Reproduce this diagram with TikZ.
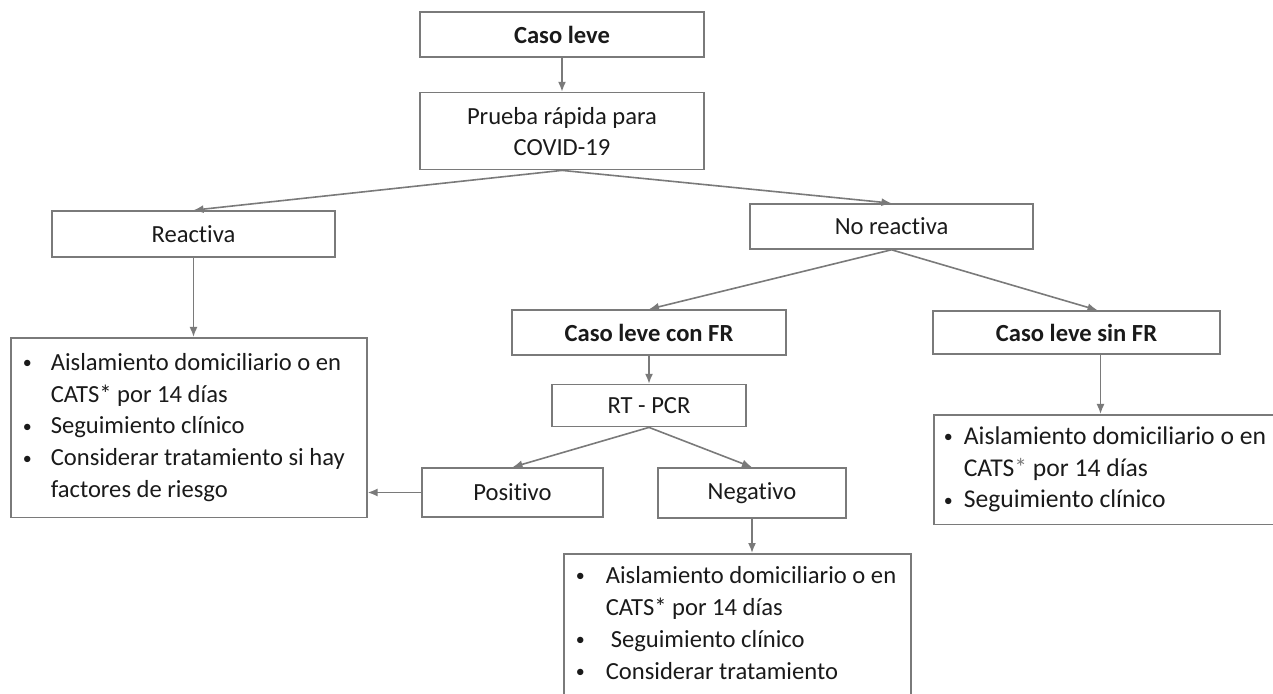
\documentclass[tikz,border=0pt]{standalone}
\usepackage{fontspec}
\setmainfont{Carlito}[Ligatures={NoCommon}]
\usetikzlibrary{arrows.meta, positioning}
\definecolor{linegray}{HTML}{7A7A7A}
\definecolor{inkgray}{HTML}{1A1A1A}
\renewcommand{\arraystretch}{1.14}
\newcommand{\bul}{\raisebox{0.15ex}{\fontsize{9}{9}\selectfont •}}
\tikzset{
>={Latex[length=5pt,width=4pt]}, % small filled arrow heads
casebox/.style={draw=linegray, line width=0.8pt, text=inkgray, inner sep=2pt,
  align=center, font=\fontsize{12.3}{15.5}\selectfont}, % plain boxes
listbox/.style={draw=linegray, line width=0.8pt, text=inkgray, anchor=north west,
  inner xsep=0pt, inner ysep=4pt, font=\fontsize{12.3}{14}\selectfont}, % bullet lists
link/.style={->, draw=linegray, line width=0.8pt}, % connectors
}

\begin{document}
\begin{tikzpicture}[x=0.5pt, y=-0.5pt]
  \useasboundingbox (0,0) rectangle (1273,694);

  \node[casebox, minimum width=142pt, minimum height=22.5pt] (leve) at (562,34.5) {\textbf{Caso leve}};
  \node[casebox, minimum width=142pt, minimum height=38.5pt, below=17pt of leve] (prueba) {Prueba rápida para\\COVID-19};
  \node[casebox, minimum width=141.5pt, minimum height=23pt] (reac) at (193.5,234) {Reactiva};
  \node[casebox, minimum width=141.5pt, minimum height=22.5pt] (noreac) at (891.5,226.5) {No reactiva};
  \node[casebox, minimum width=137pt, minimum height=22.5pt] (confr) at (649,332.5) {\textbf{Caso leve con FR}};
  \node[casebox, minimum width=143.5pt, minimum height=21.5pt] (sinfr) at (1076.5,332.5) {\textbf{Caso leve sin FR}};
  \node[casebox, minimum width=97pt, minimum height=21pt, below=14pt of confr] (rtpcr) {RT - PCR};
  \node[casebox, minimum width=90.5pt, minimum height=24.5pt] (pos) at (512.5,492.5) {Positivo};
  \node[casebox, minimum width=94pt, minimum height=25pt] (neg) at (752,493) {Negativo};

  % bullet lists
  \node[listbox, inner ysep=5pt] (iso1) at (10,337) {%
    \begin{tabular}{@{\hspace{6pt}}p{14pt}@{}p{158pt}@{}}
      \bul & Aislamiento domiciliario o en\\
           & CATS* por 14 días\\
      \bul & Seguimiento clínico\\
      \bul & Considerar tratamiento si hay\\
           & factores de riesgo
    \end{tabular}};
  \node[listbox, inner ysep=3.5pt, font=\fontsize{12.8}{14}\selectfont] (iso2) at (933,414) {%
    \begin{tabular}{@{\hspace{5pt}}p{10pt}@{}p{175pt}@{}}
      \bul & Aislamiento domiciliario o en\\
           & CATS{\color{linegray}*} por 14 días\\
      \bul & Seguimiento clínico
    \end{tabular}};
  \node[listbox, inner ysep=3.8pt] (iso3) at (563,553) {%
    \begin{tabular}{@{\hspace{6pt}}p{15pt}@{}p{152.5pt}@{}}
      \bul & Aislamiento domiciliario o en\\
           & CATS* por 14 días\\
      \bul & \hspace{2.5pt}Seguimiento clínico\\
      \bul & Considerar tratamiento\\
           & \\
    \end{tabular}};

  \coordinate (sdrop) at ([xshift=12pt]sinfr.south);

  \draw[link] (leve) -- (prueba);
  \draw[link] (prueba.south) -- (reac.north);
  \draw[link] (prueba.south) -- (noreac.north);
  \draw[link] (reac.south) -- (reac.south |- iso1.north);
  \draw[link] (noreac.south) -- (confr.north);
  \draw[link] (noreac.south) -- ([xshift=10.5pt]sinfr.north);
  \draw[link] (confr) -- (rtpcr);
  \draw[link] (rtpcr.south) -- (pos.north);
  \draw[link] (rtpcr.south) -- (neg.north);
  \draw[link] (pos.west) -- (pos.west -| iso1.east);
  \draw[link] (neg.south) -- (neg.south |- iso3.north);
  \draw[link] (sdrop) -- (sdrop |- iso2.north);
\end{tikzpicture}
\end{document}
